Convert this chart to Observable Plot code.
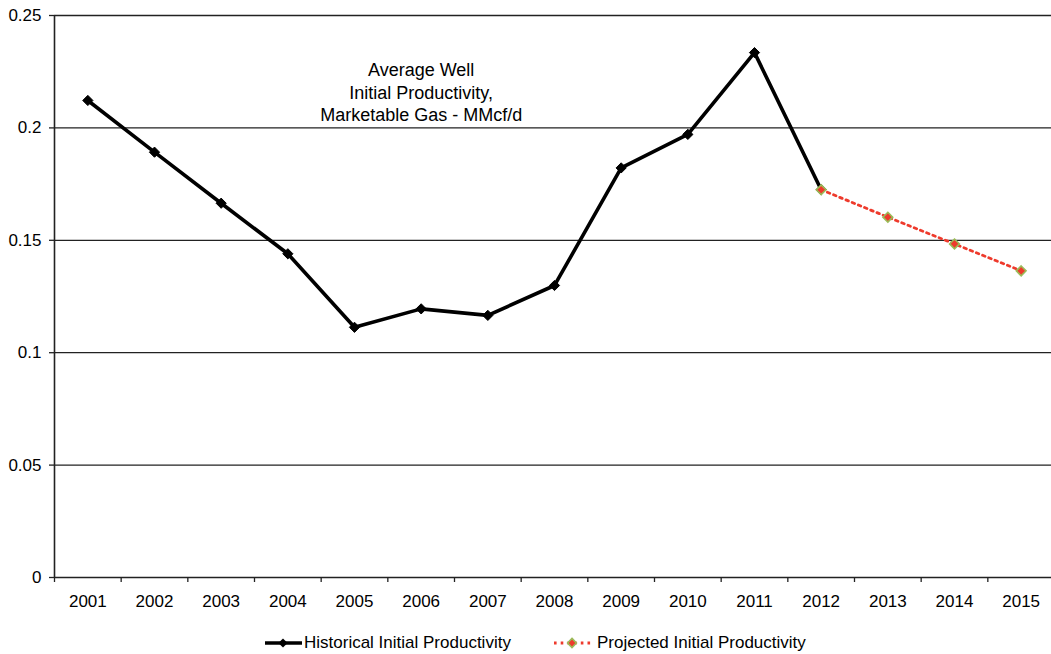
<!DOCTYPE html>
<html>
<head>
<meta charset="utf-8">
<script src="https://cdn.jsdelivr.net/npm/d3@7"></script>
<script src="https://cdn.jsdelivr.net/npm/@observablehq/plot@0.6"></script>
<style>
  html, body { margin: 0; padding: 0; background: #fff; overflow: hidden; }
  body { width: 1051px; height: 654px; font-family: "Liberation Sans", Arial, sans-serif; }
  #chart svg { display: block; max-width: none !important; }
  #legend { position: relative; height: 29px; font-size: 17px; color: #000; }
  .item { position: absolute; top: 5px; display: flex; align-items: center; height: 26px; }
  .item svg { display: block; }
</style>
</head>
<body>
<div id="chart"></div>
<div id="legend"></div>
<script>
const years = [2001, 2002, 2003, 2004, 2005, 2006, 2007, 2008, 2009, 2010, 2011, 2012];
const historical = [0.2122, 0.1892, 0.1665, 0.1440, 0.1113, 0.1195, 0.1166, 0.1299, 0.1822, 0.1971, 0.2335, 0.1725];
const projectedYears = [2012, 2013, 2014, 2015];
const projected = [0.1725, 0.1603, 0.1484, 0.1364];
const allYears = [2001, 2002, 2003, 2004, 2005, 2006, 2007, 2008, 2009, 2010, 2011, 2012, 2013, 2014, 2015];
const yTicks = [0, 0.05, 0.1, 0.15, 0.2, 0.25];
const yTickLabels = ["0", "0.05", "0.1", "0.15", "0.2", "0.25"];
const titleText = "Average Well\nInitial Productivity,\nMarketable Gas - MMcf/d";
const titleAnchor = {year: 2006, value: 0.2162};
const seriesNames = ["Historical Initial Productivity", "Projected Initial Productivity"];

const histData = years.map((y, i) => ({year: y, value: historical[i]}));
const projData = projectedYears.map((y, i) => ({year: y, value: projected[i]}));
const bounds = d3.range(allYears[0] - 0.5, allYears[allYears.length - 1] + 1, 1);

const RED = "#ee3a2c";
const GREEN = "#9bbb59";

const chart = Plot.plot({
  width: 1055,
  height: 625,
  marginLeft: 54,
  marginRight: 1,
  marginTop: 15,
  marginBottom: 48,
  style: {fontFamily: "'Liberation Sans', Arial, sans-serif", fontSize: "17px", color: "#000", background: "#fff", maxWidth: "none"},
  x: {type: "linear", domain: [allYears[0] - 0.5, allYears[allYears.length - 1] + 0.5]},
  y: {domain: [0, 0.25]},
  marks: [
    Plot.ruleY(yTicks.filter(d => d > 0), {stroke: "#222", strokeWidth: 1.3}),
    Plot.ruleY([0], {stroke: "#222", strokeWidth: 1.6}),
    Plot.ruleX([bounds[0]], {y1: 0, y2: 0.25, stroke: "#222", strokeWidth: 1.6}),
    Plot.axisY({ticks: yTicks, tickSize: 5, tickPadding: 8, tickFormat: (d) => yTickLabels[yTicks.indexOf(d)], label: null, stroke: "#222", strokeWidth: 1.3, fontSize: 17}),
    Plot.axisX({ticks: bounds, tickSize: 5, tickFormat: () => "", label: null, stroke: "#222", strokeWidth: 1.3}),
    Plot.axisX({ticks: allYears, tickSize: 0, tickPadding: 17, tickFormat: d => String(d), label: null, fontSize: 17}),
    Plot.text([titleText], {x: () => titleAnchor.year, y: () => titleAnchor.value, text: d => d, fontSize: 18, lineHeight: 1.25, textAnchor: "middle", fill: "#000"}),
    Plot.line(projData, {x: "year", y: "value", stroke: RED, strokeWidth: 2.8, strokeDasharray: "2.6 4.1"}),
    Plot.line(histData, {x: "year", y: "value", stroke: "#000", strokeWidth: 3.6, strokeLinejoin: "miter"}),
    Plot.dot(histData, {x: "year", y: "value", symbol: "diamond2", r: 4.6, fill: "#000", stroke: "#000", strokeWidth: 1}),
    Plot.dot(projData, {x: "year", y: "value", symbol: "diamond2", r: 4.4, fill: RED, stroke: GREEN, strokeWidth: 1.6})
  ]
});
document.getElementById("chart").appendChild(chart);

// legend
const legend = document.getElementById("legend");
function addItem(left, swatchSvg, label) {
  const d = document.createElement("div");
  d.className = "item";
  d.style.left = left + "px";
  d.innerHTML = swatchSvg + `<span style="margin-left:1px">${label}</span>`;
  legend.appendChild(d);
}
addItem(264,
  `<svg width="39" height="14"><line x1="1" y1="7" x2="38" y2="7" stroke="#000" stroke-width="3.6"/><path d="M19,2.4L23.6,7L19,11.6L14.4,7Z" fill="#000"/></svg>`,
  seriesNames[0]);
addItem(553,
  `<svg width="43" height="14"><line x1="1" y1="7" x2="41" y2="7" stroke="${RED}" stroke-width="2.8" stroke-dasharray="2.6 4.1"/><path d="M19,2.4L23.4,7L19,11.6L14.6,7Z" fill="${RED}" stroke="${GREEN}" stroke-width="1.6"/></svg>`,
  seriesNames[1]);
</script>
</body>
</html>
